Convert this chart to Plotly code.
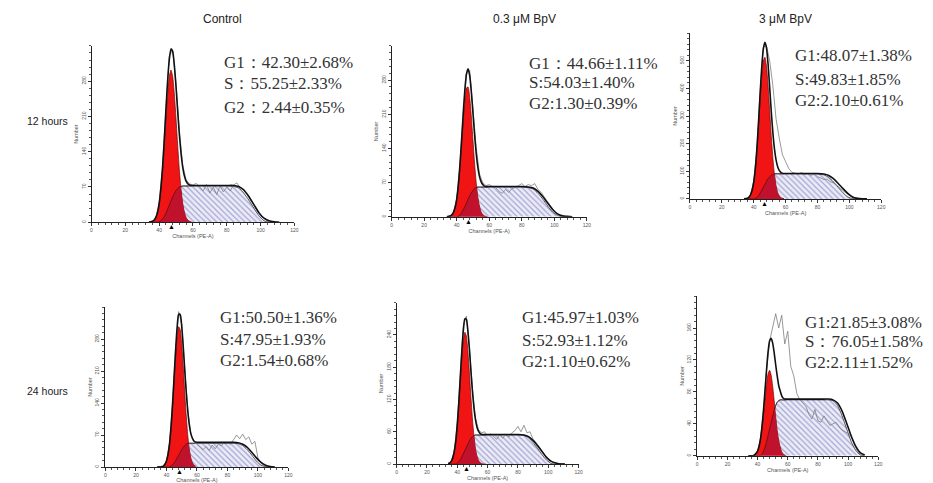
import numpy as np
import plotly.graph_objects as go

# ---------------- data ----------------
CH_PEAK = list(range(34, 60))                       # channels for peak region
CH_TAIL = [61, 63, 66, 70, 75, 80, 84, 87, 90, 93, 96, 99, 102, 105, 108, 111]
CH = CH_PEAK + CH_TAIL                              # channels for model curves
DATA_CH = list(range(36, 111, 2))                   # channels for raw histogram
X_TICKS = [0, 20, 40, 60, 80, 100, 120]

COLUMN_LABELS = ["Control", "0.3 μM BpV", "3 μM BpV"]
ROW_LABELS = ["12 hours", "24 hours"]

# 12 hours, Control
H12_CTRL_G1 = [0, 1, 2, 4, 9, 19, 36, 64, 102, 151, 205, 254, 289, 302, 289, 254, 205, 151, 102, 64, 36, 19, 9, 4, 2, 1]
H12_CTRL_S = [0, 0, 0, 0, 0, 0, 1, 3, 6, 11, 18, 26, 34, 42, 50, 57, 63, 67, 70, 71, 72, 72, 72, 72, 72, 72,
              72, 72, 72, 72, 72, 72, 71, 68, 58, 44, 28, 13, 3, 0, 0, 0]
H12_CTRL_FIT = [0, 1, 2, 4, 9, 19, 37, 67, 108, 162, 223, 280, 323, 344, 339, 311, 268, 218, 172, 135, 108, 91, 81, 76, 74, 73,
                73, 73, 73, 73, 73, 73, 73, 71, 64, 51, 35, 19, 8, 3, 1, 0]
H12_CTRL_DATA = [2, 9, 38, 110, 225, 330, 342, 275, 180, 112, 84, 76, 74, 77, 70, 62, 75, 58, 70, 55,
                 72, 60, 70, 62, 74, 78, 68, 66, 58, 48, 36, 22, 14, 8, 3, 1, 0, 0]
H12_CTRL_MEAN = 47.5
H12_CTRL_YTICKS = [0, 70, 140, 210, 280]
H12_CTRL_TEXT = ["G1：42.30±2.68%", "S：55.25±2.33%", "G2：2.44±0.35%"]

# 12 hours, 0.3 uM BpV
H12_LOW_G1 = [0, 1, 2, 4, 9, 19, 36, 64, 102, 148, 196, 238, 264, 266, 245, 206, 158, 110, 70, 41, 22, 10, 5, 2, 1, 0]
H12_LOW_S = [0, 0, 0, 0, 0, 0, 0, 1, 4, 8, 14, 21, 28, 36, 43, 49, 54, 58, 60, 61, 61, 61, 61, 61, 61, 61,
             61, 61, 61, 61, 61, 61, 60, 57, 48, 36, 22, 10, 3, 0, 0, 0]
H12_LOW_FIT = [0, 1, 2, 4, 9, 19, 36, 65, 106, 156, 210, 259, 292, 303, 289, 256, 213, 168, 130, 102, 83, 72, 66, 63, 62, 62,
               62, 62, 62, 62, 62, 62, 61, 59, 52, 41, 28, 15, 6, 2, 1, 0]
H12_LOW_DATA = [2, 9, 36, 105, 210, 295, 300, 222, 142, 88, 70, 64, 66, 62, 60, 52, 48, 56, 50, 58,
                60, 64, 68, 62, 66, 64, 68, 56, 50, 40, 30, 19, 11, 5, 2, 1, 0, 0]
H12_LOW_MEAN = 47.2
H12_LOW_YTICKS = [0, 70, 140, 210, 280]
H12_LOW_TEXT = ["G1：44.66±1.11%", "S:54.03±1.40%", "G2:1.30±0.39%"]

# 12 hours, 3 uM BpV
H12_HIGH_G1 = [0, 1, 2, 6, 15, 32, 62, 110, 178, 265, 359, 443, 499, 513, 481, 412, 321, 229, 149, 88, 48, 23, 11, 4, 2, 1]
H12_HIGH_S = [0, 0, 0, 0, 0, 0, 0, 1, 5, 12, 21, 31, 42, 53, 64, 73, 80, 85, 89, 91, 91, 91, 91, 91, 91, 91,
              91, 91, 91, 91, 91, 90, 87, 78, 62, 42, 22, 7, 1, 0, 0, 0]
H12_HIGH_FIT = [0, 1, 2, 6, 15, 32, 62, 111, 184, 278, 381, 475, 542, 567, 547, 487, 403, 316, 240, 181, 141, 116, 103, 96, 93, 92,
                92, 92, 92, 92, 92, 92, 90, 85, 73, 56, 37, 20, 7, 2, 0, 0]
H12_HIGH_DATA = [2, 15, 64, 185, 385, 550, 555, 500, 410, 290, 220, 160, 135, 110, 96, 94, 90, 95, 88, 92,
                 85, 90, 80, 76, 70, 72, 62, 58, 50, 40, 30, 20, 12, 6, 3, 1, 0, 0]
H12_HIGH_MEAN = 46.8
H12_HIGH_YTICKS = [0, 100, 200, 300, 400, 500]
H12_HIGH_TEXT = ["G1:48.07±1.38%", "S:49.83±1.85%", "G2:2.10±0.61%"]

# 24 hours, Control
H24_CTRL_G1 = [0, 0, 0, 1, 2, 6, 13, 27, 50, 85, 132, 187, 241, 285, 307, 301, 270, 220, 164, 112, 69, 39, 20, 10, 4, 2]
H24_CTRL_S = [0, 0, 0, 0, 0, 0, 0, 0, 0, 2, 5, 9, 14, 20, 26, 32, 38, 43, 47, 50, 52, 52, 52, 52, 52, 52,
              52, 52, 52, 52, 52, 52, 52, 51, 47, 38, 26, 13, 4, 1, 0, 0]
H24_CTRL_FIT = [0, 0, 0, 1, 2, 6, 13, 27, 50, 87, 137, 196, 255, 305, 334, 334, 309, 264, 212, 163, 122, 92, 73, 63, 57, 55,
                54, 54, 54, 54, 54, 54, 54, 53, 50, 43, 32, 20, 10, 4, 1, 0]
H24_CTRL_DATA = [0, 2, 13, 52, 140, 258, 340, 312, 215, 125, 72, 58, 50, 44, 38, 45, 36, 48, 40, 50,
                 46, 54, 52, 50, 60, 70, 62, 72, 60, 66, 50, 56, 20, 8, 3, 1, 0, 0]
H24_CTRL_MEAN = 48.3
H24_CTRL_YTICKS = [0, 70, 140, 210, 280]
H24_CTRL_TEXT = ["G1:50.50±1.36%", "S:47.95±1.93%", "G2:1.54±0.68%"]

# 24 hours, 0.3 uM BpV
H24_LOW_G1 = [1, 2, 5, 11, 23, 42, 71, 109, 153, 196, 229, 245, 238, 211, 171, 126, 85, 52, 29, 15, 7, 3, 1, 0, 0, 0]
H24_LOW_S = [0, 0, 0, 0, 0, 0, 2, 4, 8, 13, 19, 25, 31, 37, 43, 48, 51, 53, 54, 54, 54, 54, 54, 54, 54, 54,
             54, 54, 54, 54, 54, 54, 53, 49, 40, 29, 17, 7, 1, 0, 0, 0]
H24_LOW_FIT = [1, 2, 5, 11, 23, 42, 73, 113, 161, 209, 248, 270, 269, 248, 214, 174, 136, 105, 83, 69, 61, 57, 55, 55, 55, 55,
               55, 55, 55, 55, 55, 55, 54, 51, 44, 34, 23, 12, 5, 2, 0, 0]
H24_LOW_DATA = [5, 24, 75, 165, 255, 275, 218, 140, 86, 64, 58, 60, 52, 56, 50, 46, 54, 48, 55, 50,
                58, 62, 70, 60, 72, 58, 60, 46, 40, 33, 24, 16, 10, 5, 2, 1, 0, 0]
H24_LOW_MEAN = 45.9
H24_LOW_YTICKS = [0, 60, 120, 180, 240]
H24_LOW_TEXT = ["G1:45.97±1.03%", "S:52.93±1.12%", "G2:1.10±0.62%"]

# 24 hours, 3 uM BpV
H24_HIGH_G1 = [0, 0, 0, 0, 1, 3, 6, 12, 22, 36, 53, 73, 91, 103, 107, 101, 87, 69, 49, 32, 19, 11, 5, 2, 1, 0]
H24_HIGH_S = [0, 0, 0, 0, 0, 0, 0, 0, 0, 2, 6, 11, 18, 26, 34, 42, 50, 57, 63, 67, 69, 70, 70, 70, 70, 70,
              70, 70, 70, 70, 70, 70, 70, 70, 69, 63, 50, 34, 18, 7, 1, 0]
H24_HIGH_FIT = [0, 0, 0, 0, 1, 3, 6, 12, 22, 38, 59, 84, 109, 131, 144, 147, 141, 129, 114, 100, 88, 81, 75, 72, 71, 71,
                71, 71, 71, 71, 71, 71, 71, 71, 70, 66, 56, 41, 25, 12, 4, 1]
H24_HIGH_DATA = [0, 1, 6, 22, 58, 108, 144, 162, 178, 160, 176, 140, 156, 112, 100, 78, 70, 66, 62, 52,
                 46, 58, 44, 42, 50, 44, 38, 40, 42, 36, 32, 30, 28, 24, 14, 6, 2, 0]
H24_HIGH_MEAN = None
H24_HIGH_YTICKS = [0, 40, 80, 120, 160]
H24_HIGH_TEXT = ["G1:21.85±3.08%", "S：76.05±1.58%", "G2:2.11±1.52%"]

PANELS = [
    (H12_CTRL_G1, H12_CTRL_S, H12_CTRL_FIT, H12_CTRL_DATA, H12_CTRL_MEAN, H12_CTRL_YTICKS, H12_CTRL_TEXT),
    (H12_LOW_G1, H12_LOW_S, H12_LOW_FIT, H12_LOW_DATA, H12_LOW_MEAN, H12_LOW_YTICKS, H12_LOW_TEXT),
    (H12_HIGH_G1, H12_HIGH_S, H12_HIGH_FIT, H12_HIGH_DATA, H12_HIGH_MEAN, H12_HIGH_YTICKS, H12_HIGH_TEXT),
    (H24_CTRL_G1, H24_CTRL_S, H24_CTRL_FIT, H24_CTRL_DATA, H24_CTRL_MEAN, H24_CTRL_YTICKS, H24_CTRL_TEXT),
    (H24_LOW_G1, H24_LOW_S, H24_LOW_FIT, H24_LOW_DATA, H24_LOW_MEAN, H24_LOW_YTICKS, H24_LOW_TEXT),
    (H24_HIGH_G1, H24_HIGH_S, H24_HIGH_FIT, H24_HIGH_DATA, H24_HIGH_MEAN, H24_HIGH_YTICKS, H24_HIGH_TEXT),
]

# ---------------- layout (pixels) ----------------
W, H = 933, 483
# (x of channel 0, x of channel 120, y of count 0, y of axis top, y-range max)
BOXES = [
    (91.0, 295.0, 222.7, 46.0, 350),
    (392.7, 589.0, 217.3, 46.0, 350),
    (692.7, 885.0, 199.3, 33.3, 600),
    (105.0, 289.0, 468.0, 307.7, 350),
    (397.7, 580.7, 465.0, 303.3, 300),
    (700.0, 882.0, 456.7, 296.7, 200),
]
TEXT_POS = [
    (221.7, [62.3, 84.0, 107.3]),
    (529.3, [63.3, 82.7, 104.0]),
    (796.0, [56.0, 79.3, 101.0]),
    (218.3, [318.3, 340.0, 361.7]),
    (521.7, [318.3, 341.0, 362.7]),
    (806.0, [323.3, 342.3, 363.3]),
]
COL_POS = [(223, 19), (526, 19), (789, 19)]
ROW_POS = [(47, 121), (47, 392)]

RED = "#f01414"
DARK_RED = "#c0122c"
TICK_FONT = dict(family="Liberation Sans, Arial", size=5, color="#555")
TITLE_FONT = dict(family="Liberation Sans, Arial", size=5.5, color="#555")
STAT_FONT = dict(family="Liberation Serif, DejaVu Serif, serif", size=17, color="#333333")

fig = go.Figure()
annotations = []
n_peak = len(CH_PEAK)

for i, (g1, s, fit, data, mean, yticks, texts) in enumerate(PANELS):
    n = i + 1
    xa, ya = ("x", "y") if n == 1 else (f"x{n}", f"y{n}")
    x0, x1, yb, yt, ymax = BOXES[i]
    g1_arr = np.array(g1, dtype=float)
    s_arr = np.array(s, dtype=float)
    overlap = np.minimum(g1_arr, s_arr[:n_peak])

    # S phase (hatched)
    fig.add_trace(go.Scatter(
        x=CH, y=s, mode="lines", fill="tozeroy",
        line=dict(color="#2a2a3a", width=0.8, shape="spline", smoothing=0.6),
        fillcolor="#ececf7",
        fillpattern=dict(shape="\\", fgcolor="#5a5eb2", bgcolor="#ececf7", size=4, solidity=0.3),
        xaxis=xa, yaxis=ya, hoverinfo="skip"))
    # G1 peak (red)
    fig.add_trace(go.Scatter(
        x=CH_PEAK, y=g1, mode="lines", fill="tozeroy", fillcolor=RED,
        line=dict(color="#6a0a0a", width=0.7, shape="spline", smoothing=0.6),
        xaxis=xa, yaxis=ya, hoverinfo="skip"))
    # overlap of G1 and S (dark red)
    fig.add_trace(go.Scatter(
        x=CH_PEAK, y=overlap, mode="lines", fill="tozeroy", fillcolor=DARK_RED,
        line=dict(color=DARK_RED, width=0, shape="spline", smoothing=0.6),
        xaxis=xa, yaxis=ya, hoverinfo="skip"))
    # S outline over the red area
    fig.add_trace(go.Scatter(
        x=CH_PEAK, y=s[:n_peak], mode="lines",
        line=dict(color="#4a1010", width=0.7, shape="spline", smoothing=0.6),
        xaxis=xa, yaxis=ya, hoverinfo="skip"))
    # raw histogram (thin gray)
    fig.add_trace(go.Scatter(
        x=DATA_CH, y=data, mode="lines",
        line=dict(color="#7d7d7d", width=0.8),
        xaxis=xa, yaxis=ya, hoverinfo="skip"))
    # model envelope (thick black)
    fig.add_trace(go.Scatter(
        x=CH, y=fit, mode="lines",
        line=dict(color="#111111", width=1.6, shape="spline", smoothing=0.6),
        xaxis=xa, yaxis=ya, hoverinfo="skip"))

    dtick = yticks[1] - yticks[0]
    fig.update_layout(**{
        ("xaxis" if n == 1 else f"xaxis{n}"): dict(
            domain=[x0 / W, x1 / W], range=[0, 120], anchor=ya,
            tickmode="array", tickvals=X_TICKS, ticks="outside", ticklen=3,
            tickcolor="#333", tickwidth=0.8,
            minor=dict(ticks="outside", tickmode="linear", tick0=0, dtick=4, ticklen=2, tickcolor="#555", tickwidth=0.6),
            showline=True, linecolor="#222", linewidth=1,
            showgrid=False, zeroline=False, tickfont=TICK_FONT,
            title=dict(text="Channels (PE-A)", font=TITLE_FONT, standoff=1),
            fixedrange=True),
        ("yaxis" if n == 1 else f"yaxis{n}"): dict(
            domain=[1 - yb / H, 1 - yt / H], range=[0, ymax], anchor=xa,
            tickmode="array", tickvals=yticks, ticks="outside", ticklen=3,
            tickcolor="#333", tickwidth=0.8, tickangle=-90,
            minor=dict(ticks="outside", tickmode="linear", tick0=0, dtick=dtick / 5, ticklen=2, tickcolor="#555", tickwidth=0.6),
            showline=True, linecolor="#222", linewidth=1,
            showgrid=False, zeroline=False, tickfont=TICK_FONT,
            title=dict(text="Number", font=TITLE_FONT, standoff=1),
            fixedrange=True),
    })

    # G1 mean marker
    if mean is not None:
        annotations.append(dict(x=mean, y=0, xref=xa, yref=ya, text="▲", showarrow=False,
                                xanchor="center", yanchor="top", yshift=2,
                                font=dict(size=7, color="#000")))
    # statistics text
    tx, tys = TEXT_POS[i]
    for line, ty in zip(texts, tys):
        annotations.append(dict(x=tx / W, y=1 - ty / H, xref="paper", yref="paper", text=line,
                                showarrow=False, xanchor="left", yanchor="middle", font=STAT_FONT))

for label, (cx, cy) in zip(COLUMN_LABELS, COL_POS):
    annotations.append(dict(x=cx / W, y=1 - cy / H, xref="paper", yref="paper", text=label,
                            showarrow=False, xanchor="center", yanchor="middle",
                            font=dict(family="Liberation Sans, Arial", size=12, color="#222")))
for label, (cx, cy) in zip(ROW_LABELS, ROW_POS):
    annotations.append(dict(x=cx / W, y=1 - cy / H, xref="paper", yref="paper", text=label,
                            showarrow=False, xanchor="center", yanchor="middle",
                            font=dict(family="Liberation Sans, Arial", size=10.5, color="#222")))

fig.update_layout(
    width=W, height=H, margin=dict(l=0, r=0, t=0, b=0),
    paper_bgcolor="white", plot_bgcolor="rgba(0,0,0,0)",
    showlegend=False, annotations=annotations,
)

fig.write_html("out.html", config={"displayModeBar": False},
               post_script="document.body.style.margin='0px';document.body.style.overflow='hidden';")
